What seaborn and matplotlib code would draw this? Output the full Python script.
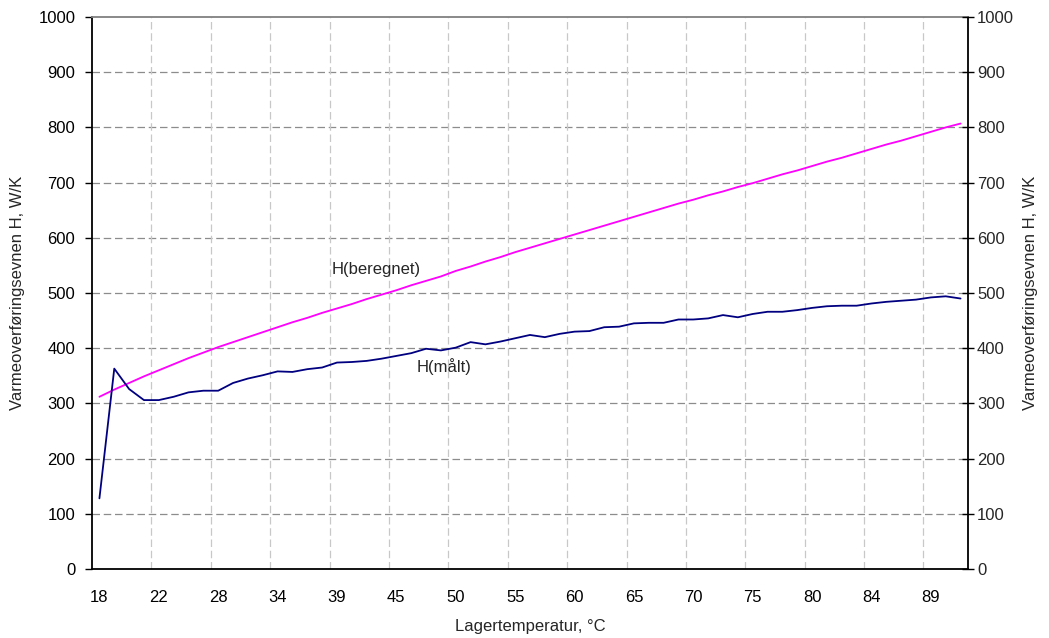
import matplotlib
matplotlib.use('Agg')
import numpy as np
import pandas as pd
import matplotlib.pyplot as plt
import seaborn as sns

# storage temperature per measurement (category axis, only every 4th labelled)
temps = [18.3, 19.2, 20.1, 21.0, 22.0, 23.5, 25.0, 26.5, 28.0, 29.5,
         31.0, 32.5, 34.0, 35.3, 36.5, 37.8, 39.0, 40.5, 42.0, 43.5,
         45.0, 46.3, 47.5, 48.8, 50.0, 51.3, 52.5, 53.8, 55.0, 56.3,
         57.5, 58.8, 60.0, 61.3, 62.5, 63.8, 65.0, 66.3, 67.5, 68.8,
         70.0, 71.3, 72.5, 73.8, 75.0, 76.3, 77.5, 78.8, 80.0, 81.0,
         82.0, 83.0, 84.0, 85.3, 86.5, 87.8, 89.0, 90.2, 91.5]

# measured heat transfer H, W/K
h_maalt = [128, 363, 326, 306, 306, 312, 320, 323, 323, 337,
           345, 351, 358, 357, 362, 365, 374, 375, 377, 381,
           386, 391, 399, 396, 401, 411, 407, 412, 418, 424,
           420, 426, 430, 431, 438, 439, 445, 446, 446, 452,
           452, 454, 460, 456, 462, 466, 466, 469, 473, 476,
           477, 477, 481, 484, 486, 488, 492, 494, 490]

# calculated heat transfer H, W/K
h_beregnet = [312, 325, 337, 349, 360, 371, 382, 392, 402, 411,
              420, 429, 438, 447, 455, 464, 472, 480, 489, 497,
              505, 514, 522, 530, 540, 548, 557, 565, 574, 582,
              590, 598, 606, 614, 622, 630, 638, 646, 654, 662,
              669, 677, 684, 692, 699, 707, 715, 722, 730, 738,
              745, 753, 761, 769, 776, 784, 792, 800, 807]

n = len(temps)
pos = np.arange(n)
df = pd.DataFrame({
    'pos': np.concatenate([pos, pos]),
    'H': h_beregnet + h_maalt,
    'serie': ['H(beregnet)'] * n + ['H(målt)'] * n,
})

sns.set_theme(style='white')
plt.rcParams['font.family'] = ['Liberation Sans', 'DejaVu Sans']
plt.rcParams['font.size'] = 12

fig, ax = plt.subplots(figsize=(10.49, 6.38), dpi=100)
fig.subplots_adjust(left=92/1049, right=968/1049, top=1-17/638, bottom=1-569/638)

sns.lineplot(data=df, x='pos', y='H', hue='serie',
             palette={'H(beregnet)': '#FF00FF', 'H(målt)': '#000080'},
             linewidth=1.3, legend=False, ax=ax)

ax.set_xlim(-0.5, n - 0.5)
ax.set_ylim(0, 1000)
yt = np.arange(0, 1001, 100)
ax.set_yticks(yt)
ax.set_yticklabels([str(v) for v in yt], fontsize=12, color='black')

# labels at every 4th category, tick marks on category borders
lab_pos = pos[::4]
ax.set_xticks(lab_pos)
ax.set_xticklabels(['%d' % int(round(temps[i])) for i in lab_pos], fontsize=12, color='black')
ax.tick_params(axis='x', which='major', length=0, pad=15)
ax.set_xticks(np.arange(-0.5, n - 4, 4), minor=True)
ax.tick_params(axis='x', which='minor', length=5, width=1, color='black', direction='out')
ax.tick_params(axis='y', length=5, width=1, color='black', direction='out', pad=7, left=True)

# grid
for y in yt[1:-1]:
    ax.axhline(y, color='#8c8c8c', lw=0.9, ls=(0, (6, 3)), zorder=0)
for x in np.arange(3.5, n - 1, 4):
    ax.axvline(x, color='#c8c8c8', lw=0.9, ls=(0, (6, 3)), zorder=0)

for s in ['left', 'bottom', 'right']:
    ax.spines[s].set_color('black')
    ax.spines[s].set_linewidth(1.3)
ax.spines['top'].set_color('#808080')
ax.spines['top'].set_linewidth(1.3)

ax.set_xlabel('Lagertemperatur, °C', fontsize=12)
ax.set_ylabel('Varmeoverføringsevnen H, W/K', fontsize=12)
ax.xaxis.set_label_coords(0.5, -0.09)
ax.yaxis.set_label_coords(-0.0765, 0.5)

ax2 = ax.twinx()
ax2.set_ylim(0, 1000)
ax2.set_yticks(yt)
ax2.set_yticklabels([str(v) for v in yt], fontsize=12)
ax2.tick_params(axis='y', length=9, width=1, color='black', direction='inout', pad=2, right=True)
ax2.set_ylabel('Varmeoverføringsevnen H, W/K', fontsize=12)
ax2.yaxis.set_label_coords(1.063, 0.5)
for s in ax2.spines.values():
    s.set_visible(False)
ax2.grid(False)

ax.text(15.67, 542, 'H(beregnet)', fontsize=12, va='center', ha='left')
ax.text(21.35, 366, 'H(målt)', fontsize=12, va='center', ha='left')

fig.savefig('out.png', dpi=100, facecolor='white')
